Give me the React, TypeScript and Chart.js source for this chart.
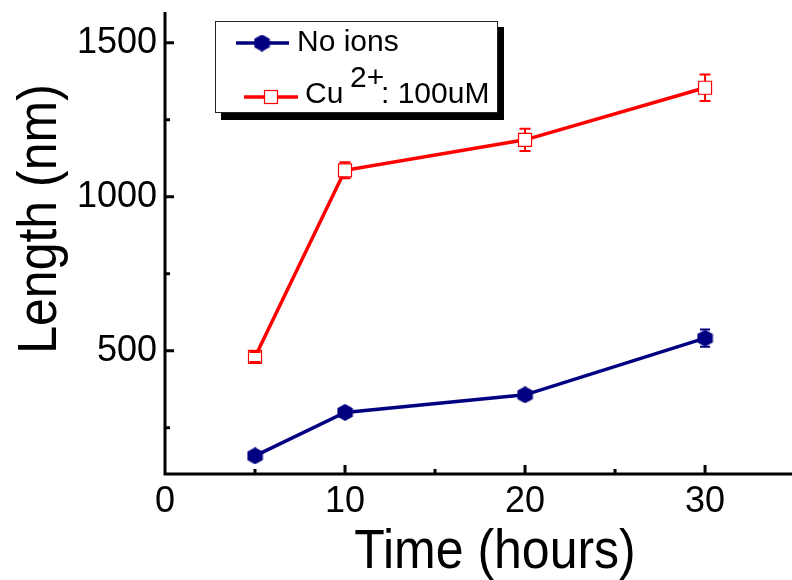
import React, { useEffect, useRef } from 'react';
import { Chart, registerables } from 'chart.js';

Chart.register(...registerables);

// ---- data ----
const times = [5, 10, 20, 30];
const noIons = [159, 300, 357, 541];
const noIonsErr = [8, 10, 10, 28];
const cuIons = [480, 1086, 1185, 1354];
const cuIonsErr = [16, 26, 36, 43];
const xMajorTicks = [0, 10, 20, 30];
const xMinorTicks = [5, 15, 25];
const yMajorTicks = [500, 1000, 1500];
const yMinorTicks = [250, 750, 1250];
const xTitle = 'Time (hours)';
const yTitle = 'Length (nm)';
const seriesNames = ['No ions', 'Cu', '2+', ': 100uM'];

const NAVY = '#000080';
const RED = '#ff0000';
const FONT = '"Liberation Sans", Arial, Helvetica, sans-serif';

function hexCanvas(size: number, color: string): HTMLCanvasElement {
  const c = document.createElement('canvas');
  c.width = size;
  c.height = size;
  const ctx = c.getContext('2d')!;
  const r = size / 2;
  ctx.fillStyle = color;
  ctx.beginPath();
  for (let i = 0; i < 6; i++) {
    const a = -Math.PI / 2 + (i * Math.PI) / 3;
    const px = r + r * Math.cos(a) * 1.05;
    const py = r + r * Math.sin(a);
    if (i === 0) ctx.moveTo(px, py);
    else ctx.lineTo(px, py);
  }
  ctx.closePath();
  ctx.fill();
  return c;
}

export default function App() {
  const ref = useRef<HTMLCanvasElement | null>(null);

  useEffect(() => {
    if (!ref.current) return;
    const hex = hexCanvas(17, NAVY);

    const originPlugin = {
      id: 'originStyle',
      afterDatasetsDraw(chart: any) {
        const ctx = chart.ctx;
        const xs = chart.scales.x;
        const ys = chart.scales.y;
        const drawErr = (vals: number[], errs: number[], color: string, half: number, cap: number, lw: number) => {
          ctx.save();
          ctx.strokeStyle = color;
          ctx.lineWidth = lw;
          times.forEach((t, i) => {
            const px = xs.getPixelForValue(t);
            const py = ys.getPixelForValue(vals[i]);
            const pyTop = ys.getPixelForValue(vals[i] + errs[i]);
            const pyBot = ys.getPixelForValue(vals[i] - errs[i]);
            ctx.beginPath();
            if (py - pyTop > half) {
              ctx.moveTo(px, py - half);
              ctx.lineTo(px, pyTop);
            }
            if (pyBot - py > half) {
              ctx.moveTo(px, py + half);
              ctx.lineTo(px, pyBot);
            }
            ctx.moveTo(px - cap, pyTop);
            ctx.lineTo(px + cap, pyTop);
            ctx.moveTo(px - cap, pyBot);
            ctx.lineTo(px + cap, pyBot);
            ctx.stroke();
          });
          ctx.restore();
        };
        drawErr(cuIons, cuIonsErr, RED, 6.5, 5.5, 2);
        drawErr(noIons, noIonsErr, NAVY, 8, 5, 2);
      },
      afterDraw(chart: any) {
        const ctx = chart.ctx;
        const xs = chart.scales.x;
        const ys = chart.scales.y;
        const area = chart.chartArea;
        ctx.save();
        // axes
        ctx.strokeStyle = '#000';
        ctx.lineWidth = 3;
        ctx.lineCap = 'butt';
        ctx.beginPath();
        ctx.moveTo(area.left, area.top);
        ctx.lineTo(area.left, area.bottom + 1.5);
        ctx.moveTo(area.left - 1.5, area.bottom);
        ctx.lineTo(area.right, area.bottom);
        ctx.stroke();
        // inward ticks
        ctx.beginPath();
        xMajorTicks.forEach((v) => {
          const px = xs.getPixelForValue(v);
          if (v === 0) return;
          ctx.moveTo(px, area.bottom);
          ctx.lineTo(px, area.bottom - 9);
        });
        xMinorTicks.forEach((v) => {
          const px = xs.getPixelForValue(v);
          ctx.moveTo(px, area.bottom);
          ctx.lineTo(px, area.bottom - 5);
        });
        yMajorTicks.forEach((v) => {
          const py = ys.getPixelForValue(v);
          ctx.moveTo(area.left, py);
          ctx.lineTo(area.left + 9, py);
        });
        yMinorTicks.forEach((v) => {
          const py = ys.getPixelForValue(v);
          ctx.moveTo(area.left, py);
          ctx.lineTo(area.left + 5, py);
        });
        ctx.stroke();

        // axis titles
        ctx.fillStyle = '#000';
        ctx.font = `50px ${FONT}`;
        ctx.textAlign = 'center';
        ctx.textBaseline = 'alphabetic';
        ctx.save();
        ctx.translate(495, 568);
        ctx.scale(1, 1.12);
        ctx.fillText(xTitle, 0, 0);
        ctx.restore();
        ctx.save();
        ctx.translate(56, 219);
        ctx.rotate(-Math.PI / 2);
        ctx.scale(1, 1.12);
        ctx.fillText(yTitle, 0, 0);
        ctx.restore();

        // legend box
        ctx.fillStyle = '#000';
        ctx.fillRect(221, 27, 283, 93);
        ctx.fillStyle = '#fff';
        ctx.fillRect(215, 21, 283, 92);
        ctx.strokeStyle = '#222';
        ctx.lineWidth = 1;
        ctx.strokeRect(215.5, 21.5, 282, 91);

        // entry 1
        ctx.strokeStyle = NAVY;
        ctx.lineWidth = 3.5;
        ctx.beginPath();
        ctx.moveTo(236, 43);
        ctx.lineTo(289, 43);
        ctx.stroke();
        ctx.drawImage(hex, 262 - hex.width / 2, 43 - hex.height / 2);
        ctx.fillStyle = '#000';
        ctx.textAlign = 'left';
        ctx.font = `30px ${FONT}`;
        ctx.fillText(seriesNames[0], 297, 51);

        // entry 2
        ctx.strokeStyle = RED;
        ctx.lineWidth = 3.5;
        ctx.beginPath();
        ctx.moveTo(244, 97);
        ctx.lineTo(298, 97);
        ctx.stroke();
        ctx.fillStyle = '#fff';
        ctx.fillRect(264.5, 90.5, 13, 13);
        ctx.lineWidth = 1.2;
        ctx.strokeRect(264.5, 90.5, 13, 13);
        ctx.fillStyle = '#000';
        ctx.fillText(seriesNames[1], 305, 103);
        ctx.fillText(seriesNames[2], 350, 87);
        ctx.fillText(seriesNames[3], 381, 103);
        ctx.restore();
      },
    };

    const noPad = (s: any) => {
      s.paddingTop = 0;
      s.paddingBottom = 0;
      s.paddingLeft = 0;
      s.paddingRight = 0;
    };

    const chart = new Chart(ref.current, {
      type: 'line',
      data: {
        datasets: [
          {
            label: 'No ions',
            data: times.map((t, i) => ({ x: t, y: noIons[i] })),
            borderColor: NAVY,
            backgroundColor: NAVY,
            borderWidth: 3.5,
            pointStyle: hex as any,
            pointRadius: 8,
            tension: 0,
          },
          {
            label: 'Cu2+: 100uM',
            data: times.map((t, i) => ({ x: t, y: cuIons[i] })),
            borderColor: RED,
            backgroundColor: '#ffffff',
            borderWidth: 3.5,
            pointStyle: 'rect',
            pointRadius: 9.2,
            pointBorderWidth: 1.2,
            pointBorderColor: RED,
            pointBackgroundColor: '#ffffff',
            tension: 0,
          },
        ],
      },
      options: {
        animation: false,
        responsive: false,
        layout: { autoPadding: false, padding: { top: 12, left: 0, right: 0, bottom: 0 } },
        plugins: {
          legend: { display: false },
          tooltip: { enabled: false },
          title: { display: false },
        },
        scales: {
          x: {
            type: 'linear',
            min: 0,
            max: 34.83,
            grid: { display: false, drawTicks: false },
            border: { display: false },
            afterBuildTicks: (s: any) => {
              s.ticks = xMajorTicks.map((v) => ({ value: v }));
            },
            afterFit: (s: any) => {
              s.height = 106;
              noPad(s);
            },
            ticks: {
              padding: 6,
              color: '#000',
              maxRotation: 0,
              autoSkip: false,
              font: { family: FONT, size: 36 },
              callback: (v: any) => String(v),
            },
          },
          y: {
            type: 'linear',
            min: 100,
            max: 1600,
            grid: { display: false, drawTicks: false },
            border: { display: false },
            afterBuildTicks: (s: any) => {
              s.ticks = yMajorTicks.map((v) => ({ value: v }));
            },
            afterFit: (s: any) => {
              s.width = 165;
              noPad(s);
            },
            ticks: {
              padding: 8,
              color: '#000',
              autoSkip: false,
              font: { family: FONT, size: 36 },
              callback: (v: any) => String(v),
            },
          },
        },
      },
      plugins: [originPlugin],
    });
    return () => chart.destroy();
  }, []);

  return (
    <div style={{ position: 'fixed', left: 0, top: 0, width: 792, height: 580, background: '#fff' }}>
      <canvas ref={ref} width={792} height={580} style={{ display: 'block' }} />
    </div>
  );
}
